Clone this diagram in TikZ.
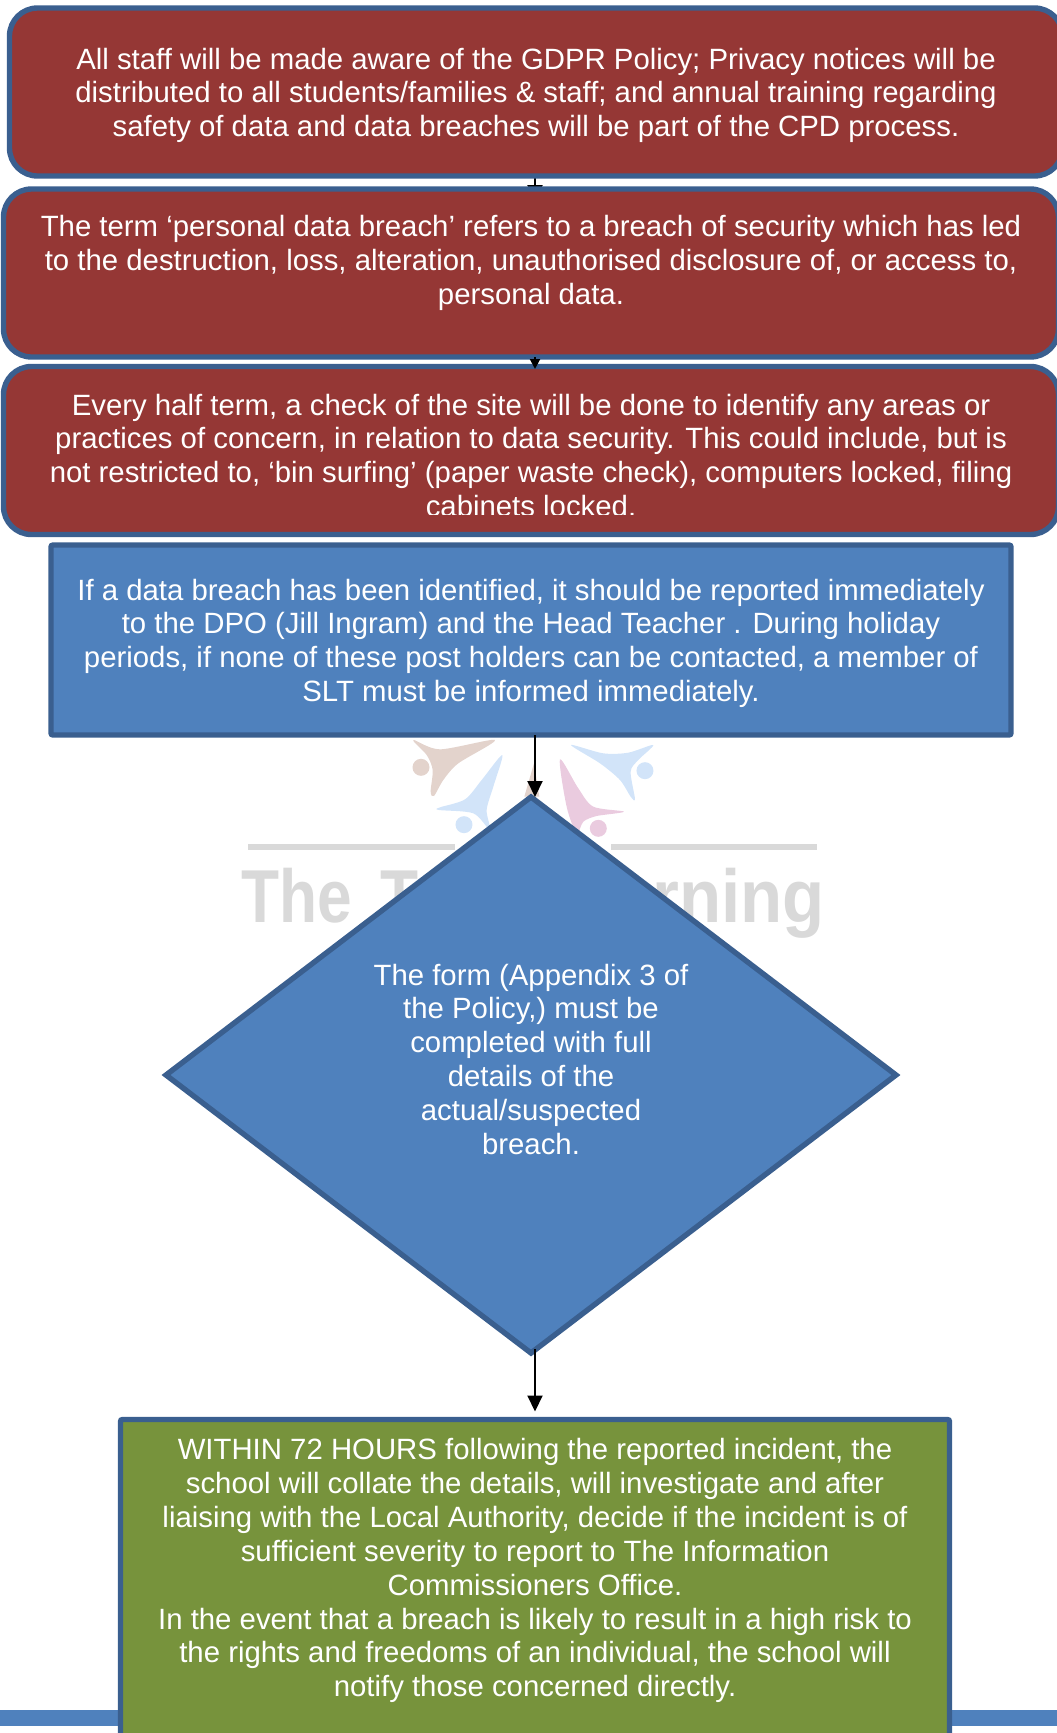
\documentclass[tikz,border=0pt]{standalone}
\usepackage{fontspec}
\setmainfont{Liberation Sans}
\usetikzlibrary{shapes.geometric,arrows.meta,backgrounds}
\definecolor{breachred}{HTML}{953735}
\definecolor{edgeblue}{HTML}{3A5F8F}
\definecolor{fillblue}{HTML}{4F81BD}
\definecolor{fillgreen}{HTML}{77933C}
\definecolor{markgrey}{HTML}{D9D9D9}
\definecolor{markbrown}{HTML}{E3D3CC}
\definecolor{markblue}{HTML}{D2E4F9}
\definecolor{markpink}{HTML}{EACBDF}
\begin{document}
\begin{tikzpicture}[
    x = 1pt, y = -1pt,
    main/.style = {draw = edgeblue, line width = 5.4pt, outer sep = 0pt, inner sep = 0pt,
        text = white, align = center, font = \fontsize{29.35}{33.85}\selectfont},
    redbox/.style = {main, fill = breachred, rounded corners = 28pt, minimum height = 168pt},
    bluebox/.style = {main, fill = fillblue},
    greenbox/.style = {main, fill = fillgreen, rounded corners = 2pt},
    link/.style = {line width = 2pt, -{Triangle[width = 15pt, length = 16pt]}},
    wordmark/.style = {text = markgrey, inner sep = 0pt, font = \fontsize{75}{75}\bfseries}
]
\clip (0,0) rectangle (1057,1733);

% Watermark
\fill[fillblue] (0,1710) rectangle (1057,1726);
\fill[markgrey] (248,844) rectangle (455,850);
\fill[markgrey] (611,844) rectangle (817,850);
\node[wordmark, anchor = base west, xscale = 0.83] (markleft) at (241,922) {The\hspace{14pt} T};
\node[wordmark, anchor = base east, xscale = 0.92] (markright) at (825,922) {rning};
\begin{scope}[shift = {(390,730)}, x = 0.3333pt, y = -0.3333pt]
    \fill[markbrown] plot[smooth cycle] coordinates {(70,30) (150,58) (315,30) (205,100) (160,150) (132,198) (122,185) (128,120) (110,75)};
    \fill[markbrown] (93,112) circle (8.5pt);
    \fill[markblue] plot[smooth cycle] coordinates {(337,75) (310,170) (290,240) (300,300) (250,250) (147,240) (150,232) (225,208) (275,150)};
    \fill[markblue] (222,284) circle (8.5pt);
    \fill[markbrown] (432,100) -- (448,200) -- (403,200) -- cycle;
    \fill[markpink] plot[smooth cycle] coordinates {(510,88) (565,175) (610,230) (702,245) (620,258) (580,275) (560,310) (530,230)};
    \fill[markpink] (625,295) circle (8.5pt);
    \fill[markblue] plot[smooth cycle] coordinates {(543,45) (640,70) (715,68) (790,45) (745,90) (722,125) (735,207) (722,200) (690,150) (630,100)};
    \fill[markblue] (765,122) circle (8.5pt);
\end{scope}

% Policy boxes
\node[redbox, minimum width = 1053pt] (aware) at (536,92) {\mbox{}\\[-6pt]All staff will be made aware of the GDPR Policy; Privacy notices will be\\distributed to all students/families \& staff; and annual training regarding\\safety of data and data breaches will be part of the CPD process.};
\node[redbox, minimum width = 1055pt] (term) at (531,273) {The term ‘personal data breach’ refers to a breach of security which has led\\to the destruction, loss, alteration, unauthorised disclosure of, or access to,\\personal data.\\[-8pt]\mbox{}};
\node[redbox, minimum width = 1055pt] (check) at (531,450.5) {\mbox{}\\[-3pt]Every half term, a check of the site will be done to identify any areas or\\practices of concern, in relation to data security. This could include, but is\\not restricted to, ‘bin surfing’ (paper waste check), computers locked, filing\\cabinets locked.};
\fill[breachred] (400,514.5) rectangle (660,522);

% Reporting steps
\node[bluebox, rounded corners = 2pt, minimum width = 960pt, minimum height = 190pt] (report) at (531,640) {\mbox{}\\[-6pt]If a data breach has been identified, it should be reported immediately\\to the DPO (Jill Ingram) and the Head Teacher . During holiday\\periods, if none of these post holders can be contacted, a member of\\SLT must be informed immediately.};
\node[bluebox, diamond, aspect = 1.31, minimum width = 730pt, minimum height = 556pt] (form) at (531,1075) {The form (Appendix 3 of\\the Policy,) must be\\completed with full\\details of the\\actual/suspected\\breach.\\[-2pt]\mbox{}};
\node[greenbox, minimum width = 829pt, minimum height = 380pt] (hours) at (535,1609.5) {WITHIN 72 HOURS following the reported incident, the\\school will collate the details, will investigate and after\\liaising with the Local Authority, decide if the incident is of\\sufficient severity to report to The Information\\Commissioners Office.\\In the event that a breach is likely to result in a high risk to\\the rights and freedoms of an individual, the school will\\notify those concerned directly.\\[50pt]\mbox{}};

% Connectors
\begin{pgfonlayer}{background}
    \draw[link, shorten > = -12pt] ([xshift = -1pt]aware.south) -- ([xshift = 4pt]term.north);
\end{pgfonlayer}
\draw[line width = 2pt, -{Triangle[width = 10pt, length = 10pt]}, shorten > = -2.5pt] ([xshift = 4pt]term.south) -- ([xshift = 4pt]check.north);
\draw[link] ([xshift = 4pt]report.south) -- ([xshift = 4pt]form.north);
\draw[link, shorten > = 8pt, shorten < = -4pt] ([xshift = 4pt]form.south) -- (hours.north);

\end{tikzpicture}
\end{document}
